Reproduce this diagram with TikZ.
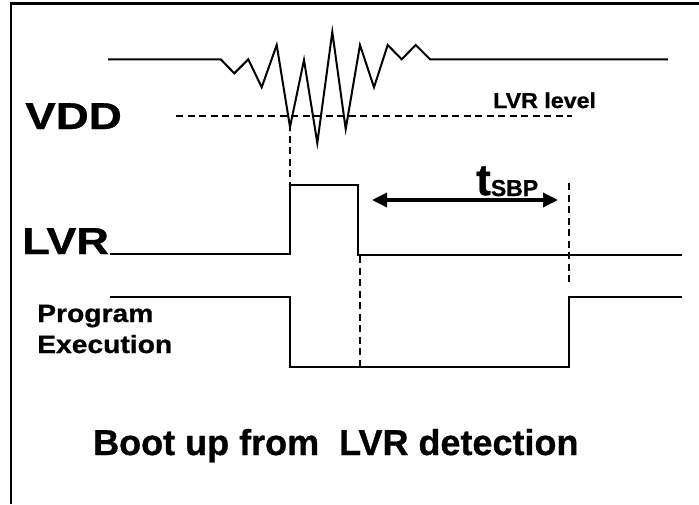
\documentclass[tikz,border=0pt]{standalone}
\usepackage{fontspec}
\setmainfont{Liberation Sans}[BoldFeatures={FakeBold=0.8}]
\usetikzlibrary{arrows.meta}
\tikzset{
  wave/.style={line width=2.4pt, line join=miter},
  guide/.style={line width=2.8pt, dash pattern=on 7pt off 4.5pt},
  lbl/.style={inner sep=0pt, anchor=base west},
  span/.style={line width=3.4pt, {Triangle[length=15pt,width=14pt]}-{Triangle[length=15pt,width=14pt]}}
}
\begin{document}
\begin{tikzpicture}[x=1pt,y=-1pt]
\useasboundingbox (0,0) rectangle (699,504);
% frame
\draw[line width=2.6pt] (11,504) -- (11,3.5) -- (699,3.5);
% VDD waveform
\draw[wave, line width=2pt] (108,59.3) -- (220.7,59.3) -- (234.3,73.3) -- (248.3,59.3) -- (261.7,87.3)
  -- (276.7,45) -- (290,127) -- (304,60) -- (317.3,143) -- (332.3,32) -- (345.7,129) -- (360,45)
  -- (374,87.3) -- (387.7,45) -- (401.7,59.3) -- (415.7,45) -- (430,59.3) -- (668,59.3);
% LVR level
\coordinate (lvlA) at (176,116);
\coordinate (lvlB) at (572,116);
\draw[guide] (lvlA) -- (lvlB);
% LVR waveform
\draw[wave] (110,254) -- (290,254) -- (290,185) -- (358,185) -- (358,255) -- (682,255);
% Program execution
\draw[wave] (110,297) -- (290,297) -- (290,367) -- (569,367) -- (569,297) -- (682,297);
% dashed verticals
\coordinate (d1a) at (290,124);
\coordinate (d1b) at (290,254);
\coordinate (d2a) at (360,256);
\coordinate (d2b) at (360,367);
\coordinate (d3a) at (569,183);
\coordinate (d3b) at (569,284);
\draw[guide] (d1a) -- (d1b);
\draw[guide] (d2a) -- (d2b);
\draw[guide] (d3a) -- (d3b);
% t_SBP arrow
\coordinate (tA) at (372,200);
\coordinate (tB) at (558,200);
\draw[span] (tA) -- (tB);
% labels
\node[lbl, xscale=1.22, font=\bfseries\fontsize{37.5}{37.5}\selectfont] (vdd) at (25,129) {VDD};
\node[lbl, xscale=1.2, font=\bfseries\fontsize{37.5}{37.5}\selectfont] (lvr) at (22,254) {LVR};
\node[lbl, xscale=1.13, font=\bfseries\fontsize{25}{25}\selectfont] (prog) at (37,322) {Program};
\node[lbl, xscale=1.13, font=\bfseries\fontsize{25}{25}\selectfont] (exec) at (37,353) {Execution};
\node[lbl, xscale=1.08, font=\bfseries\fontsize{21.5}{21.5}\selectfont] (level) at (493,108) {LVR level};
\node[lbl, font=\bfseries] (tsbp) at (476,195) {{\fontsize{44}{44}\selectfont t}\raisebox{-1pt}{\fontsize{23}{23}\selectfont SBP}};
\node[lbl, font=\bfseries\fontsize{36}{36}\selectfont] (title) at (93,455) {Boot up from\ \ LVR detection};
\end{tikzpicture}
\end{document}
